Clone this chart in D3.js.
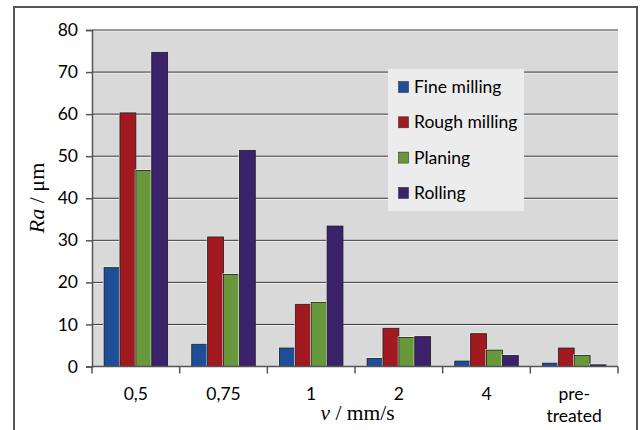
<!DOCTYPE html>
<html>
<head>
<meta charset="utf-8">
<script src="https://cdn.jsdelivr.net/npm/d3@7"></script>
<style>
  html, body { margin: 0; padding: 0; background: #fff; }
  svg { display: block; }
</style>
</head>
<body>
<svg id="chart" width="643" height="430"></svg>
<script>
// Surface roughness Ra per feed velocity and process
const categories = ["0,5", "0,75", "1", "2", "4", "pre-treated"];
const seriesNames = ["Fine milling", "Rough milling", "Planing", "Rolling"];
const fineMilling  = [23.5, 5.3, 4.4, 1.9, 1.3, 0.8];
const roughMilling = [60.3, 30.8, 14.8, 9.1, 7.8, 4.4];
const planing      = [46.6, 21.9, 15.2, 6.9, 3.9, 2.6];
const rolling      = [74.7, 51.4, 33.4, 7.1, 2.6, 0.4];
const yTicks = [0, 10, 20, 30, 40, 50, 60, 70, 80];
const colors = ["#1f4e99", "#a01a20", "#67993c", "#3c216b"];

const seriesValues = [fineMilling, roughMilling, planing, rolling];

const svg = d3.select("#chart");
const plot = { left: 92, right: 618, top: 30, bottom: 366.5 };
const labelFont = "Lato, 'Open Sans', sans-serif";
const titleFont = "'Liberation Serif', 'DejaVu Serif', serif";

// outer frame
svg.append("rect")
  .attr("x", 14).attr("y", 7).attr("width", 623).attr("height", 440)
  .attr("fill", "#fff").attr("stroke", "#555").attr("stroke-width", 2);

// one slot per category; the four bars fill 72.5% of it
const slot = (plot.right - plot.left) / categories.length;
const x0c = c => plot.left + slot * (categories.indexOf(c) + 0.5);
const groupW = slot * 0.725;
const x1 = d3.scaleBand().domain(seriesNames).range([0, groupW]);
const y = d3.scaleLinear().domain([0, 80]).range([plot.bottom, plot.top]);

// plot background
svg.append("rect")
  .attr("x", plot.left).attr("y", plot.top)
  .attr("width", plot.right - plot.left).attr("height", plot.bottom - plot.top)
  .attr("fill", "#d9d9d9");

// gridlines
const grid = svg.append("g");
grid.selectAll("line.hl").data(yTicks.slice(1)).join("line")
  .attr("x1", plot.left).attr("x2", plot.right)
  .attr("y1", d => y(d) + 1).attr("y2", d => y(d) + 1)
  .attr("stroke", "#f2f2f2").attr("stroke-width", 1);
grid.selectAll("line.g").data(yTicks.slice(1)).join("line")
  .attr("x1", plot.left).attr("x2", plot.right)
  .attr("y1", d => y(d)).attr("y2", d => y(d))
  .attr("stroke", "#3a3a3a").attr("stroke-width", 1);

// bars
const bars = svg.append("g");
categories.forEach((c, ci) => {
  const gx = x0c(c) - groupW / 2;
  seriesNames.forEach((s, si) => {
    const v = seriesValues[si][ci];
    const bx = gx + x1(s);
    const bw = x1.bandwidth();
    // light edge
    bars.append("rect")
      .attr("x", bx - 1).attr("y", y(v) - 1)
      .attr("width", bw + 1).attr("height", y(0) - y(v) + 1)
      .attr("fill", "#f4f4f4");
    bars.append("rect")
      .attr("x", bx).attr("y", y(v))
      .attr("width", bw).attr("height", y(0) - y(v))
      .attr("fill", colors[si])
      .attr("stroke", "#1a1a1a").attr("stroke-width", 0.8);
  });
});

// y axis
const yAxis = d3.axisLeft(y).tickValues(yTicks).tickSize(6).tickPadding(8);
const ya = svg.append("g").attr("transform", `translate(${plot.left},0)`).call(yAxis);
ya.select(".domain").attr("stroke", "#555").attr("stroke-width", 1.5);
ya.selectAll(".tick line").attr("stroke", "#555").attr("stroke-width", 1.5);
ya.selectAll(".tick text")
  .attr("font-family", labelFont)
  .attr("font-size", 17.5).attr("fill", "#000");

// x axis with ticks at category boundaries
const xAxisG = svg.append("g");
xAxisG.append("line")
  .attr("x1", plot.left).attr("x2", plot.right)
  .attr("y1", plot.bottom).attr("y2", plot.bottom)
  .attr("stroke", "#555").attr("stroke-width", 1.5);
d3.range(categories.length + 1).forEach(i => {
  const tx = plot.left + slot * i;
  xAxisG.append("line")
    .attr("x1", tx).attr("x2", tx)
    .attr("y1", plot.bottom).attr("y2", plot.bottom + 7)
    .attr("stroke", "#555").attr("stroke-width", 1.5);
});
categories.forEach(c => {
  const lines = c === "pre-treated" ? ["pre-", "treated"] : [c];
  const t = xAxisG.append("text")
    .attr("x", x0c(c)).attr("y", 400)
    .attr("text-anchor", "middle")
    .attr("font-family", labelFont)
    .attr("font-size", 17.5).attr("fill", "#000");
  lines.forEach((l, li) => {
    t.append("tspan").attr("x", x0c(c)).attr("dy", li === 0 ? 0 : 22).text(l);
  });
});

// axis titles
const xt = svg.append("text")
  .attr("x", 357.5).attr("y", 420)
  .attr("text-anchor", "middle")
  .attr("font-family", titleFont)
  .attr("font-size", 21.5).attr("fill", "#000");
xt.append("tspan").attr("font-style", "italic").text("v");
xt.append("tspan").text(" / mm/s");

const yt = svg.append("text")
  .attr("transform", "translate(44,198) rotate(-90)")
  .attr("text-anchor", "middle")
  .attr("font-family", titleFont)
  .attr("font-size", 22).attr("fill", "#000");
yt.append("tspan").attr("font-style", "italic").text("Ra");
yt.append("tspan").text(" / μm");

// legend
const lg = svg.append("g").attr("transform", "translate(388,69)");
lg.append("rect").attr("width", 136).attr("height", 142).attr("fill", "#ececec");
seriesNames.forEach((s, i) => {
  const ry = 18 + i * 35.3;
  lg.append("rect")
    .attr("x", 10.5).attr("y", ry - 5.5).attr("width", 10).attr("height", 11)
    .attr("fill", colors[i]).attr("stroke", "#333").attr("stroke-width", 0.6);
  lg.append("text")
    .attr("x", 26).attr("y", ry + 6)
    .attr("font-family", labelFont)
    .attr("font-size", 17.5).attr("fill", "#000")
    .text(s);
});
</script>
</body>
</html>
